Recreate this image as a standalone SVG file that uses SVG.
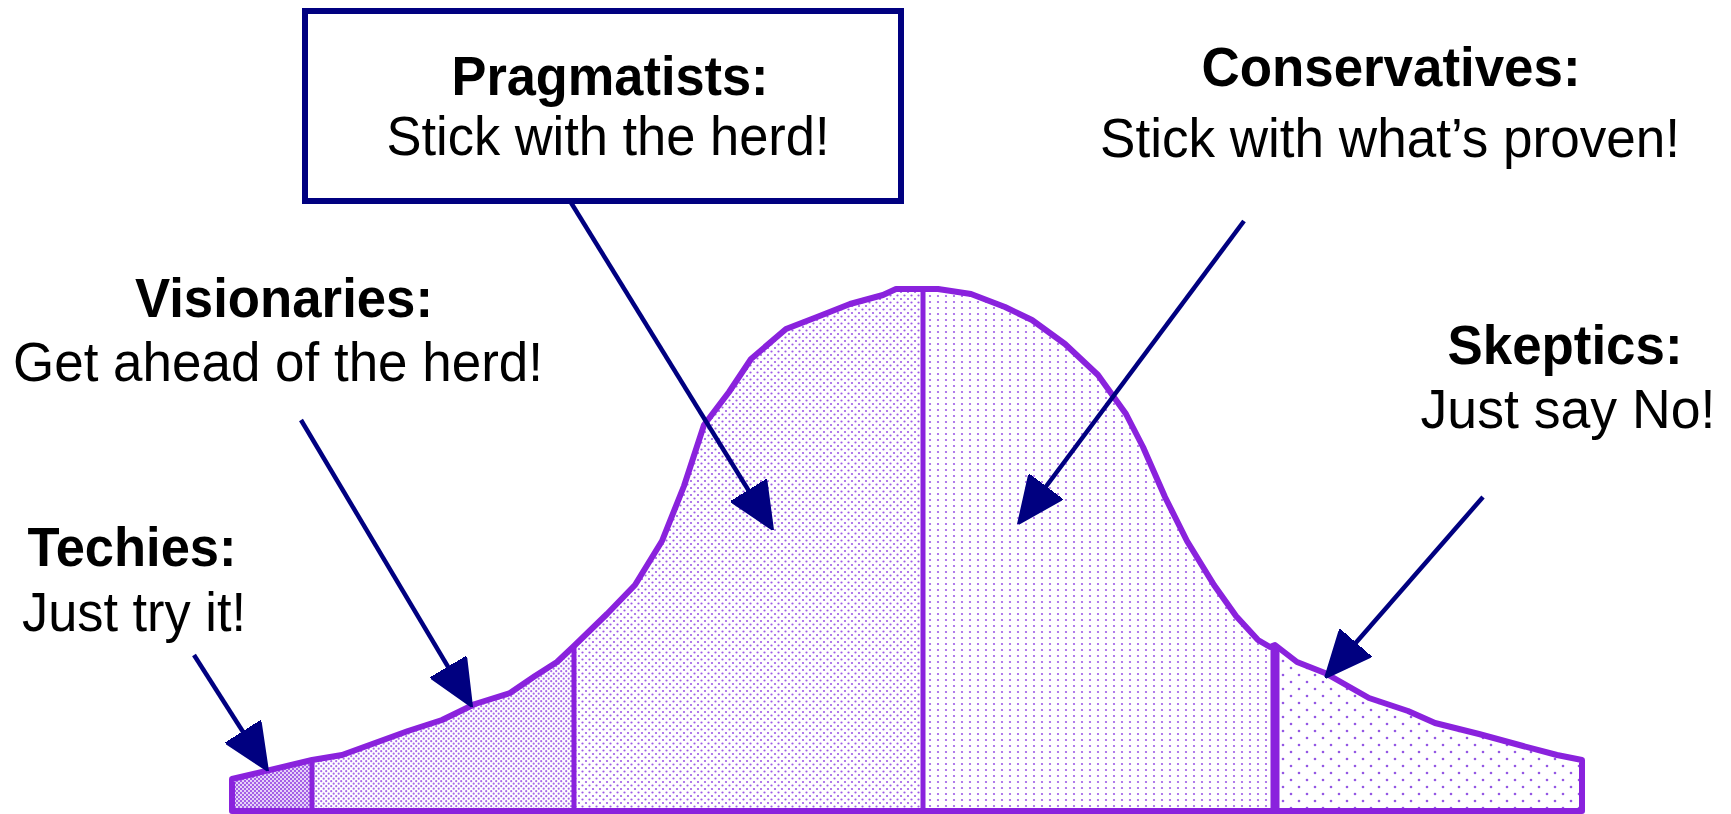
<svg xmlns="http://www.w3.org/2000/svg" width="1731" height="814" viewBox="0 0 1731 814">
<style>
.t{font-family:"Liberation Sans",Arial,sans-serif;font-size:56px;fill:#000;text-anchor:middle}
.b{font-weight:bold}
.c{stroke:#000080;stroke-width:4.5;fill:none;marker-end:url(#ah)}
.sec{stroke:none}
.out{fill:none;stroke:#8a22dd;stroke-width:6;stroke-linejoin:round}
.div{stroke:#8a22dd;stroke-width:5}
</style>
<defs>
<marker id="ah" viewBox="0 0 47 42" refX="27" refY="21" markerWidth="47" markerHeight="42" markerUnits="userSpaceOnUse" orient="auto">
<path d="M0,0 L47,21 L0,42 Z" fill="#000080" stroke="#000080" stroke-width="2" stroke-linejoin="round"/>
</marker>
<pattern id="p1" width="4" height="4" patternUnits="userSpaceOnUse">
<rect width="4" height="4" fill="#e6d2f8"/>
<rect x="0" y="0" width="2" height="2" fill="#a45fe6"/>
<rect x="2" y="2" width="2" height="2" fill="#a45fe6"/>
</pattern>
<pattern id="p2" width="5" height="5" patternUnits="userSpaceOnUse">
<rect width="5" height="5" fill="#fff"/>
<circle cx="1.2" cy="1.2" r="1.1" fill="#a66be8"/>
<circle cx="3.7" cy="3.7" r="1.1" fill="#a66be8"/>
</pattern>
<pattern id="p3" width="7" height="7" patternUnits="userSpaceOnUse">
<rect width="7" height="7" fill="#fff"/>
<circle cx="1.5" cy="1.5" r="1.1" fill="#9d5ce6"/>
<circle cx="5" cy="5" r="1.1" fill="#9d5ce6"/>
</pattern>
<pattern id="p4" width="8" height="6" patternUnits="userSpaceOnUse">
<rect width="8" height="6" fill="#fff"/>
<circle cx="2" cy="2" r="1.1" fill="#9d5ce6"/>
</pattern>
<pattern id="p5" width="16" height="14" patternUnits="userSpaceOnUse">
<rect width="16" height="14" fill="#fff"/>
<circle cx="3" cy="3" r="1.3" fill="#9457e4"/>
<circle cx="11" cy="10" r="1.3" fill="#9457e4"/>
</pattern>
</defs>

<g id="curve">
<polygon class="sec" fill="url(#p1)" points="232,811 232,779 312,760 312,811"/>
<polygon class="sec" fill="url(#p2)" points="312,811 312,760 342,755 408,731 442,720 475,704 510,693 535,676 557,662 574,646 574,811"/>
<polygon class="sec" fill="url(#p3)" points="574,811 574,646 607,614 635,585 662,541 684,486 704,425 729,392 751,359 786,329 817,317 850,304 883,295 896,289 923,289 923,811"/>
<polygon class="sec" fill="url(#p4)" points="923,811 923,289 938,289 971,294 1005,307 1032,320 1065,344 1098,375 1126,414 1143,447 1165,497 1187,541 1214,585 1236,616 1258,640 1270,647 1275,648 1275,811"/>
<polygon class="sec" fill="url(#p5)" points="1275,811 1275,645 1297,662 1325,673 1369,698 1408,711 1435,723 1479,734 1523,746 1557,755 1582,760 1582,811"/>
<path class="out" d="M232,811 L232,779 L312,760 L342,755 L408,731 L442,720 L475,704 L510,693 L535,676 L557,662 L574,646 L607,614 L635,585 L662,541 L684,486 L704,425 L729,392 L751,359 L786,329 L817,317 L850,304 L883,295 L896,289 L938,289 L971,294 L1005,307 L1032,320 L1065,344 L1098,375 L1126,414 L1143,447 L1165,497 L1187,541 L1214,585 L1236,616 L1258,640 L1270,647 L1275,645 L1297,662 L1325,673 L1369,698 L1408,711 L1435,723 L1479,734 L1523,746 L1557,755 L1582,760 L1582,811 Z"/>
<line class="div" x1="312" y1="760" x2="312" y2="811"/>
<line class="div" x1="574" y1="646" x2="574" y2="811"/>
<line class="div" x1="923" y1="289" x2="923" y2="811"/>
<line class="div" x1="1275" y1="645" x2="1275" y2="811" style="stroke-width:9"/>
</g>

<g id="pragmatists">
<rect x="305" y="11" width="596" height="190" fill="#fff" stroke="#000080" stroke-width="6"/>
<text class="t b" x="610" y="95" textLength="317" lengthAdjust="spacingAndGlyphs">Pragmatists:</text>
<text class="t" x="608" y="155" textLength="443" lengthAdjust="spacingAndGlyphs">Stick with the herd!</text>
</g>
<g id="conservatives">
<text class="t b" x="1391" y="86" textLength="379" lengthAdjust="spacingAndGlyphs">Conservatives:</text>
<text class="t" x="1390" y="157" textLength="580" lengthAdjust="spacingAndGlyphs">Stick with what’s proven!</text>
</g>
<g id="visionaries">
<text class="t b" x="284" y="317" textLength="298" lengthAdjust="spacingAndGlyphs">Visionaries:</text>
<text class="t" x="278" y="381" textLength="530" lengthAdjust="spacingAndGlyphs">Get ahead of the herd!</text>
</g>
<g id="techies">
<text class="t b" x="132" y="566" textLength="209" lengthAdjust="spacingAndGlyphs">Techies:</text>
<text class="t" x="134" y="631" textLength="224" lengthAdjust="spacingAndGlyphs">Just try it!</text>
</g>
<g id="skeptics">
<text class="t b" x="1565" y="364" textLength="235" lengthAdjust="spacingAndGlyphs">Skeptics:</text>
<text class="t" x="1568" y="428" textLength="295" lengthAdjust="spacingAndGlyphs">Just say No!</text>
</g>

<g id="connectors">
<line class="c" x1="194" y1="655" x2="257.2" y2="754.1"/>
<line class="c" x1="301" y1="420" x2="461.8" y2="689.8"/>
<line class="c" x1="570" y1="201" x2="762.5" y2="513"/>
<line class="c" x1="1244" y1="221" x2="1030" y2="508"/>
<line class="c" x1="1483" y1="497" x2="1338.2" y2="662.9"/>
</g>
</svg>
